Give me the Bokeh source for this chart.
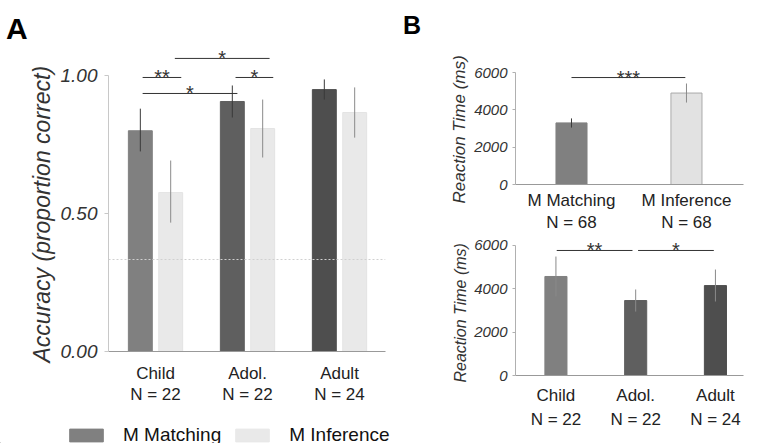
import numpy as np
from bokeh.plotting import figure
from bokeh.models import (ColumnDataSource, Range1d, FixedTicker, NumeralTickFormatter,
                          Legend, LegendItem, Span, Title, Plot)
from bokeh.layouts import row, column
from bokeh.embed import file_html
from bokeh.resources import INLINE
from bokeh.core.properties import value

FONT = "Liberation Sans"

# ---------------- Panel A data ----------------
groups = ["Child", "Adol.", "Adult"]
group_n = [22, 22, 24]
acc_matching = [0.80, 0.906, 0.949]
acc_matching_lo = [0.725, 0.848, 0.913]
acc_matching_hi = [0.88, 0.964, 0.986]
acc_inference = [0.576, 0.808, 0.866]
acc_inference_lo = [0.467, 0.703, 0.775]
acc_inference_hi = [0.692, 0.913, 0.957]
chance_level = 1 / 3
acc_ticks = [0.0, 0.5, 1.0]
# significance brackets (x from, x to, height, stars)
acc_sig_x0 = [-0.14, -0.14, 0.21, 0.87]
acc_sig_x1 = [0.28, 0.89, 1.24, 1.28]
acc_sig_y = [0.993, 0.935, 1.062, 0.993]
acc_sig_label = ["**", "*", "*", "*"]
series_names = ["M Matching", "M Inference"]

# ---------------- Panel B data ----------------
conditions = ["M Matching", "M Inference"]
cond_n = [68, 68]
rt_cond = [3300, 4900]
rt_cond_lo = [3050, 4390]
rt_cond_hi = [3540, 5410]
rt_cond_sig_x0 = [0.0]
rt_cond_sig_x1 = [0.99]
rt_cond_sig_y = [5730]
rt_cond_sig_label = ["***"]

rt_group = [4570, 3460, 4150]
rt_group_lo = [3650, 2950, 3415]
rt_group_hi = [5490, 3970, 4890]
rt_group_sig_x0 = [0.01, 1.03]
rt_group_sig_x1 = [0.96, 1.98]
rt_group_sig_y = [5770, 5770]
rt_group_sig_label = ["**", "*"]
rt_ticks = [0, 2000, 4000, 6000]

panel_letters = ["A", "B"]

matching_colors = ["#808080", "#5f5f5f", "#4e4e4e"]
inference_color = "#e9e9e9"
TXT = "#222222"
HAS_FRAME_ALIGN = "frame_align" in Plot.properties()


def bare(width, height, xr, yr):
    p = figure(width=width, height=height, x_range=xr, y_range=yr, output_backend="svg",
               toolbar_location=None, title=None, x_axis_location=None, y_axis_location=None,
               min_border=0, min_border_left=0, min_border_right=0, min_border_top=0,
               min_border_bottom=0)
    p.outline_line_color = None
    p.background_fill_color = "white"
    p.border_fill_color = "white"
    p.grid.visible = False
    if HAS_FRAME_ALIGN:
        p.frame_align = False
    return p


def style_common(p):
    p.outline_line_color = None
    p.xgrid.visible = False
    p.ygrid.visible = False
    p.background_fill_color = "white"
    p.border_fill_color = "white"


def add_sig(p, x0, x1, y, labels, size):
    src = ColumnDataSource(dict(x0=x0, x1=x1, y=y, label=labels,
                                xm=[(a + b) / 2 for a, b in zip(x0, x1)]))
    p.segment(x0="x0", y0="y", x1="x1", y1="y", source=src, line_color="#333333", line_width=1)
    p.text(x="xm", y="y", text="label", source=src, text_font=value(FONT),
           text_font_size=value(size), text_align="center", text_baseline="alphabetic",
           text_color="#333333")


def left_title(p, text, size, offset, standoff):
    p.add_layout(Title(text=text, align="left", offset=offset, standoff=standoff,
                       vertical_align="bottom", text_font=FONT, text_font_size=size,
                       text_font_style="italic", text_color="#333333"), "left")


def style_xaxis(p, labels, size, standoff, lh):
    p.xaxis.ticker = FixedTicker(ticks=list(range(len(labels))))
    p.xaxis.major_label_overrides = {i: t for i, t in enumerate(labels)}
    p.xaxis.major_label_text_font = FONT
    p.xaxis.major_label_text_font_size = size
    p.xaxis.major_label_text_color = TXT
    p.xaxis.major_label_text_line_height = lh
    p.xaxis.major_label_standoff = standoff
    p.xaxis.major_tick_line_color = None
    p.xaxis.minor_tick_line_color = None
    p.xaxis.axis_line_color = "#999999"


def letter_strip(width, letter, lx, ly, size_px):
    s = bare(width, 40, Range1d(0, width), Range1d(0, 40))
    proxy = s.vbar(x=[-100], top=[1], width=1, fill_alpha=0, line_alpha=0)
    s.add_layout(Legend(items=[LegendItem(label=letter, renderers=[proxy])],
                        location=(lx, ly), glyph_width=0, glyph_height=size_px,
                        label_standoff=0, padding=0, margin=0, border_line_color=None,
                        background_fill_alpha=0, label_text_font=FONT,
                        label_text_font_size=f"{size_px}px", label_text_font_style="bold",
                        label_text_color="black", label_height=size_px))
    return s


# ---------------- panel letter strips ----------------
pTopA = letter_strip(400, panel_letters[0], 6, -6, 30)
pTopB = letter_strip(364, panel_letters[1], 3, 0, 25)

# ---------------- Panel A ----------------
pA = figure(width=400, height=379, x_range=Range1d(-0.511, 2.5), y_range=Range1d(0, 1.127),
            output_backend="svg", toolbar_location=None, title=None,
            min_border_left=108, min_border_right=15, min_border_top=0, min_border_bottom=68)
style_common(pA)

xs = np.arange(len(groups))
off = 0.165
bw = 0.26
srcM = ColumnDataSource(dict(x=xs - off, top=acc_matching, lo=acc_matching_lo,
                             hi=acc_matching_hi, color=matching_colors))
srcI = ColumnDataSource(dict(x=xs + off, top=acc_inference, lo=acc_inference_lo,
                             hi=acc_inference_hi))
pA.vbar(x="x", top="top", bottom=0, width=bw, source=srcM, fill_color="color",
        line_color="color")
pA.vbar(x="x", top="top", bottom=0, width=bw, source=srcI, fill_color=inference_color,
        line_color="#e4e4e4")
pA.segment(x0="x", y0="lo", x1="x", y1="hi", source=srcM, line_color="#3a3a3a", line_width=1)
pA.segment(x0="x", y0="lo", x1="x", y1="hi", source=srcI, line_color="#8a8a8a", line_width=1)
pA.add_layout(Span(location=chance_level, dimension="width", line_color="#d0d0d0",
                   line_dash="2 2", line_width=1))
add_sig(pA, acc_sig_x0, acc_sig_x1, acc_sig_y, acc_sig_label, "20px")

style_xaxis(pA, [f"{g}\nN = {n}" for g, n in zip(groups, group_n)], "17px", 6, 1.15)

pA.yaxis.ticker = FixedTicker(ticks=acc_ticks)
pA.yaxis.formatter = NumeralTickFormatter(format="0.00")
pA.yaxis.bounds = (0, 1)
pA.yaxis.major_label_text_font = FONT
pA.yaxis.major_label_text_font_size = "19px"
pA.yaxis.major_label_text_font_style = "italic"
pA.yaxis.major_label_text_color = "#333333"
pA.yaxis.major_label_standoff = 7
pA.yaxis.major_tick_out = 4
pA.yaxis.major_tick_in = 0
pA.yaxis.minor_tick_line_color = None
pA.yaxis.axis_line_color = "#c8c8c8"
pA.yaxis.major_tick_line_color = "#c8c8c8"
left_title(pA, "Accuracy (proportion correct)", "23px", -11, 5)

# ---------------- legend strip under panel A ----------------
pL = bare(400, 24, Range1d(0, 400), Range1d(0, 24))
# legend proxies: bars placed outside the visible range, only their swatches are shown
lm = pL.vbar(x=[-100], top=[1], width=1, fill_color=matching_colors[0],
             line_color=matching_colors[0])
li = pL.vbar(x=[-100], top=[1], width=1, fill_color=inference_color,
             line_color=inference_color)
pL.add_layout(Legend(items=[LegendItem(label=series_names[0], renderers=[lm]),
                            LegendItem(label=series_names[1], renderers=[li])],
                     location=(65, -3), orientation="horizontal",
                     glyph_width=42, glyph_height=16, label_standoff=16, spacing=10,
                     padding=0, margin=0, border_line_color=None, background_fill_alpha=0,
                     label_text_font=FONT, label_text_font_size="19px",
                     label_text_color="#111111", label_height=16))

# ---------------- Panel B top ----------------
pB1 = figure(width=364, height=194, x_range=Range1d(-0.487, 1.496), y_range=Range1d(0, 6643),
             output_backend="svg", toolbar_location=None, title=None,
             min_border_left=115, min_border_right=21, min_border_top=20, min_border_bottom=50)
style_common(pB1)
srcC = ColumnDataSource(dict(x=list(range(len(conditions))), top=rt_cond, lo=rt_cond_lo,
                             hi=rt_cond_hi, color=["#808080", "#e2e2e2"],
                             lcolor=["#808080", "#aaaaaa"], ecolor=["#3a3a3a", "#8a8a8a"]))
pB1.vbar(x="x", top="top", bottom=0, width=0.27, source=srcC, fill_color="color",
         line_color="lcolor")
pB1.segment(x0="x", y0="lo", x1="x", y1="hi", source=srcC, line_color="ecolor", line_width=1)
add_sig(pB1, rt_cond_sig_x0, rt_cond_sig_x1, rt_cond_sig_y, rt_cond_sig_label, "20px")
style_xaxis(pB1, [f"{c}\nN = {n}" for c, n in zip(conditions, cond_n)], "17px", 0, 1.18)

# ---------------- Panel B bottom ----------------
pB2 = figure(width=364, height=209, x_range=Range1d(-0.507, 2.352), y_range=Range1d(0, 6415),
             output_backend="svg", toolbar_location=None, title=None,
             min_border_left=115, min_border_right=1, min_border_top=2, min_border_bottom=68)
style_common(pB2)
srcG = ColumnDataSource(dict(x=list(range(len(groups))), top=rt_group, lo=rt_group_lo,
                             hi=rt_group_hi, color=matching_colors))
pB2.vbar(x="x", top="top", bottom=0, width=0.277, source=srcG, fill_color="color",
         line_color="color")
pB2.segment(x0="x", y0="lo", x1="x", y1="hi", source=srcG, line_color="#8a8a8a", line_width=1)
add_sig(pB2, rt_group_sig_x0, rt_group_sig_x1, rt_group_sig_y, rt_group_sig_label, "20px")
style_xaxis(pB2, [f"{g}\nN = {n}" for g, n in zip(groups, group_n)], "17px", 4, 1.27)

for p in (pB1, pB2):
    p.yaxis.ticker = FixedTicker(ticks=rt_ticks)
    p.yaxis.bounds = (0, 6000)
    p.yaxis.major_label_text_font = FONT
    p.yaxis.major_label_text_font_size = "15px"
    p.yaxis.major_label_text_font_style = "italic"
    p.yaxis.major_label_text_color = "#333333"
    p.yaxis.major_label_standoff = 5
    p.yaxis.major_tick_out = 3
    p.yaxis.major_tick_in = 0
    p.yaxis.minor_tick_line_color = None
    p.yaxis.axis_line_color = "#b0b0b0"
    p.yaxis.major_tick_line_color = "#b0b0b0"

left_title(pB1, "Reaction Time (ms)", "17px", -19, 6)
left_title(pB2, "Reaction Time (ms)", "16px", -7, 6)

layout = row(column(pTopA, pA, pL), column(pTopB, pB1, pB2))
open("out.html", "w").write(file_html(layout, INLINE))
